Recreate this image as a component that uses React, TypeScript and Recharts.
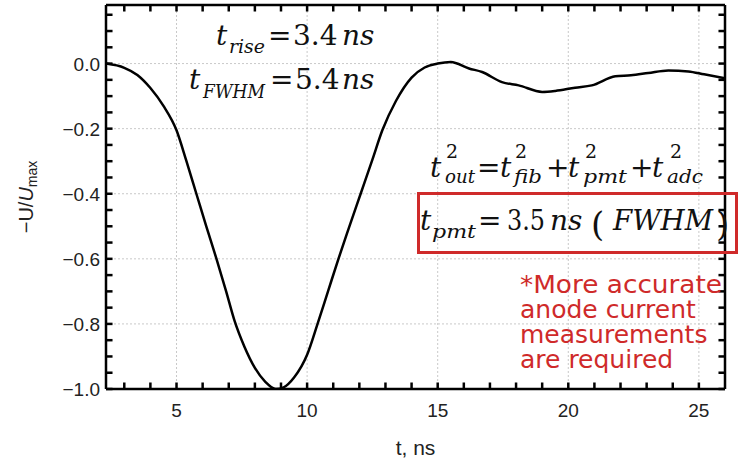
import React from "react";
import { LineChart, Line, XAxis, YAxis, ReferenceLine } from "recharts";

// normalised anode signal
const times = [
  2.3, 3.0, 3.5, 4.0, 4.5, 5.0, 5.38, 5.76, 6.14, 6.53, 6.9, 7.22, 7.6, 8.0,
  8.4, 8.8, 9.1, 9.5, 10.0, 10.4, 10.8, 11.2, 11.6, 12.05, 12.5, 12.88, 13.4,
  14.0, 14.5, 15.0, 15.5, 16.2, 16.7, 17.46, 18.1, 19.0, 19.5, 20.26, 20.9,
  21.8, 22.4, 23.06, 23.83, 24.6, 25.2, 26.0,
];
const signal = [
  0.0, -0.013, -0.035, -0.075, -0.13, -0.205, -0.3, -0.4, -0.5, -0.6, -0.7,
  -0.79, -0.87, -0.935, -0.978, -1.0, -0.995, -0.965, -0.895, -0.8, -0.7, -0.6,
  -0.505, -0.4, -0.295, -0.205, -0.115, -0.043, -0.012, 0.0, 0.005, -0.015,
  -0.026, -0.057, -0.067, -0.087, -0.084, -0.074, -0.067, -0.039, -0.036,
  -0.029, -0.021, -0.024, -0.033, -0.045,
];

const X_DOMAIN: [number, number] = [2.3, 26];
const Y_DOMAIN: [number, number] = [-1, 0.18];
const xTicks = [3, 4, 5, 6, 7, 8, 9, 10, 11, 12, 13, 14, 15, 16, 17, 18, 19, 20, 21, 22, 23, 24, 25];
const yTicks = [
  -1, -0.95, -0.9, -0.85, -0.8, -0.75, -0.7, -0.65, -0.6, -0.55, -0.5, -0.45,
  -0.4, -0.35, -0.3, -0.25, -0.2, -0.15, -0.1, -0.05, 0, 0.05, 0.1, 0.15,
];
const xMajor = [5, 10, 15, 20, 25];
const yMajor = [0, -0.2, -0.4, -0.6, -0.8, -1];

const data = times.map((t, i) => ({ t, v: signal[i] }));

const SANS = "'Liberation Sans', Arial, sans-serif";
const SERIF = "'DejaVu Serif', 'Liberation Serif', serif";

// plot box (chart margins + axis sizes below)
const PL = 106, PT = 5, PR = 725, PB = 389;

// inward tick length, in axis units (about 6-7px each way)
const TX = 0.25;
const TY = 0.02;

const isMajorY = (v: number) => yMajor.some((m) => Math.abs(m - v) < 1e-9);
const fmtY = (v: number) => (v < 0 ? "\u2212" : "") + Math.abs(v).toFixed(1);

function BottomLabel({ x, y, payload }: any) {
  if (!xMajor.includes(payload.value)) return <g />;
  return (
    <text x={x} y={y + 22} textAnchor="middle" fontSize={19} fontFamily={SANS} fill="#222">
      {payload.value}
    </text>
  );
}

function LeftLabel({ x, y, payload }: any) {
  if (!isMajorY(payload.value)) return <g />;
  return (
    <text x={x} y={y + 7} textAnchor="end" fontSize={19} fontFamily={SANS} fill="#222">
      {fmtY(payload.value)}
    </text>
  );
}

function YTitle(props: any) {
  const vb = props.viewBox;
  const cy = vb.y + vb.height / 2;
  const cx = 33;
  return (
    <text
      x={cx}
      y={cy}
      transform={`rotate(-90, ${cx}, ${cy})`}
      textAnchor="middle"
      fontSize={20}
      fontFamily={SANS}
      fill="#222"
    >
      <tspan>{"\u2212U/"}</tspan>
      <tspan fontStyle="italic">U</tspan>
      <tspan fontSize={14} dy={4}>max</tspan>
    </text>
  );
}

function XTitle(props: any) {
  const vb = props.viewBox;
  return (
    <text x={vb.x + vb.width / 2} y={455} textAnchor="middle" fontSize={21} fontFamily={SANS} fill="#222">
      t, ns
    </text>
  );
}

function M({ x, y, s = 28, i = false, w, children }: any) {
  return (
    <text
      x={x}
      y={y}
      fontSize={s}
      fontStyle={i ? "italic" : "normal"}
      fontFamily={SERIF}
      fill="#111"
      textLength={w}
      lengthAdjust={w ? "spacingAndGlyphs" : undefined}
    >
      {children}
    </text>
  );
}

function Notes() {
  const red = "#cf2a2a";
  return (
    <svg
      width={744}
      height={458}
      style={{ position: "absolute", left: 0, top: 0, pointerEvents: "none" }}
    >
      {/* rise time / FWHM */}
      <M x={216} y={45} i>t</M>
      <M x={229} y={53} s={19} i w={36}>rise</M>
      <M x={268} y={45}>=</M>
      <M x={293} y={45}>3.4</M>
      <M x={342} y={45} i>ns</M>

      <M x={189} y={89} i>t</M>
      <M x={203} y={98} s={19} i w={62}>FWHM</M>
      <M x={270} y={89}>=</M>
      <M x={295} y={89}>5.4</M>
      <M x={342} y={89} i>ns</M>

      {/* quadrature sum */}
      <M x={430} y={177} i>t</M>
      <M x={446} y={158} s={19}>2</M>
      <M x={445} y={183} s={19} i w={30}>out</M>
      <M x={477} y={177}>=</M>
      <M x={500} y={177} i>t</M>
      <M x={515} y={158} s={19}>2</M>
      <M x={514} y={183} s={19} i w={28}>fib</M>
      <M x={546} y={177}>+</M>
      <M x={568} y={177} i>t</M>
      <M x={585} y={158} s={19}>2</M>
      <M x={583} y={183} s={19} i w={44}>pmt</M>
      <M x={630} y={177}>+</M>
      <M x={652} y={177} i>t</M>
      <M x={670} y={158} s={19}>2</M>
      <M x={667} y={183} s={19} i w={36}>adc</M>

      {/* pmt contribution */}
      <rect x={418.5} y={193.5} width={318} height={59} fill="none" stroke={red} strokeWidth={3} />
      <M x={420} y={230} i>t</M>
      <M x={432} y={238} s={19} i w={44}>pmt</M>
      <M x={478} y={230}>=</M>
      <M x={507} y={230} w={38}>3.5</M>
      <M x={550} y={230} i>ns</M>
      <M x={591} y={236} s={34}>(</M>
      <M x={613} y={230} i w={100}>FWHM</M>
      <M x={716} y={236} s={34}>)</M>

      <g fontSize={25} fontFamily="'DejaVu Sans', sans-serif" fill={red}>
        <text x={520} y={293} textLength={202} lengthAdjust="spacingAndGlyphs">*More accurate</text>
        <text x={520} y={318}>anode current</text>
        <text x={520} y={343}>measurements</text>
        <text x={520} y={368}>are required</text>
      </g>
    </svg>
  );
}

export default function App() {
  const frame = { stroke: "#000", strokeWidth: 2.5 };
  const tickLn = { stroke: "#000", strokeWidth: 2.5, ifOverflow: "visible" as const };
  const grid = { stroke: "#c9c9c9", strokeWidth: 1, strokeDasharray: "2 2" };
  const [x0, x1] = X_DOMAIN;
  const [y0, y1] = Y_DOMAIN;
  return (
    <div style={{ position: "absolute", left: 0, top: 0, width: 744, height: 458, background: "#fff" }}>
      <LineChart width={744} height={458} data={data} margin={{ top: PT, right: 744 - PR, bottom: 0, left: 0 }}>
        <XAxis
          xAxisId="b"
          dataKey="t"
          type="number"
          domain={X_DOMAIN}
          allowDataOverflow
          ticks={xTicks}
          interval={0}
          height={458 - PB}
          tickSize={6}
          tickMargin={0}
          axisLine={frame}
          tickLine={false}
          tick={(p: any) => <BottomLabel {...p} />}
          label={<XTitle />}
        />
        <YAxis
          yAxisId="l"
          type="number"
          domain={Y_DOMAIN}
          allowDataOverflow
          ticks={yTicks}
          interval={0}
          width={PL}
          tickSize={6}
          tickMargin={0}
          axisLine={frame}
          tickLine={false}
          tick={(p: any) => <LeftLabel {...p} />}
          label={<YTitle />}
        />
        {/* dotted grid at the labelled values */}
        {xMajor.map((g) => (
          <ReferenceLine key={"gx" + g} x={g} xAxisId="b" yAxisId="l" {...grid} />
        ))}
        {yMajor
          .filter((g) => g > y0)
          .map((g) => (
            <ReferenceLine key={"gy" + g} y={g} xAxisId="b" yAxisId="l" {...grid} />
          ))}
        {/* top and right frame */}
        <ReferenceLine y={y1} xAxisId="b" yAxisId="l" {...frame} ifOverflow="visible" />
        <ReferenceLine x={x1} xAxisId="b" yAxisId="l" {...frame} ifOverflow="visible" />
        {/* inward ticks on all four sides */}
        {xTicks.map((t) => (
          <ReferenceLine key={"tb" + t} xAxisId="b" yAxisId="l" segment={[{ x: t, y: y0 }, { x: t, y: y0 + TY }]} {...tickLn} />
        ))}
        {xTicks.map((t) => (
          <ReferenceLine key={"tt" + t} xAxisId="b" yAxisId="l" segment={[{ x: t, y: y1 }, { x: t, y: y1 - TY }]} {...tickLn} />
        ))}
        {yTicks.map((v) => (
          <ReferenceLine key={"tl" + v} xAxisId="b" yAxisId="l" segment={[{ x: x0, y: v }, { x: x0 + TX, y: v }]} {...tickLn} />
        ))}
        {yTicks.map((v) => (
          <ReferenceLine key={"tr" + v} xAxisId="b" yAxisId="l" segment={[{ x: x1, y: v }, { x: x1 - TX, y: v }]} {...tickLn} />
        ))}
        <Line
          xAxisId="b"
          yAxisId="l"
          type="monotone"
          dataKey="v"
          stroke="#000"
          strokeWidth={2.5}
          dot={false}
          isAnimationActive={false}
        />
      </LineChart>
      <Notes />
    </div>
  );
}
